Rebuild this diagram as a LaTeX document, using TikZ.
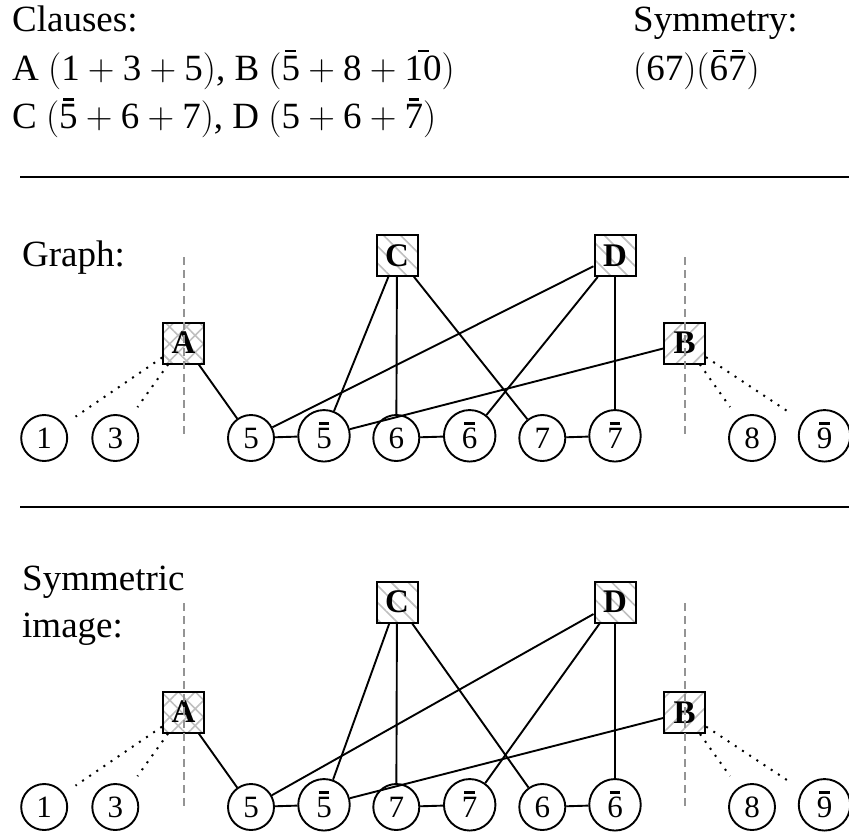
\RequirePackage{fix-cm}
\documentclass[tikz,border=0pt]{standalone}
\usepackage{fontspec}
\setmainfont{Liberation Serif}
\usetikzlibrary{patterns.meta}
\newcommand\dg[1]{\mbox{#1}}
% digit with a bar: optional width of the bar, raise, thickness
\newcommand\nd[2][0.29em]{\mbox{\ooalign{#2\cr\hidewidth\rule[0.75em]{#1}{0.07em}\hidewidth\cr}}}
\newcommand\cd[1]{\mbox{\ooalign{#1\cr\hidewidth\rule[0.77em]{0.34em}{0.08em}\hidewidth\cr}}}
\tikzset{
 clause/.style={draw,line width=2pt,minimum size=41pt,inner sep=0pt,font=\fontsize{33}{38}\selectfont\bfseries},
 hatchx/.style={pattern={Hatch[angle=45,distance=12pt,line width=1.6pt]},pattern color=black!25},
 hatchnw/.style={pattern={Lines[angle=-45,distance=12pt,line width=1.6pt]},pattern color=black!25},
 hatchne/.style={pattern={Lines[angle=45,distance=12pt,line width=1.6pt]},pattern color=black!25},
 lit/.style={draw,circle,line width=1.9pt,minimum size=46pt,inner sep=0pt,text height=21pt,text depth=0pt,font=\fontsize{31}{36}\selectfont},
 nlit/.style={lit,minimum size=51.5pt,text height=25.5pt},
 edge/.style={line width=1.9pt},
 weak/.style={line width=2pt,dash pattern=on 2pt off 6.6pt,shorten >=14pt},
 axis/.style={black!42,line width=2pt,dash pattern=on 8pt off 5pt},
 rulel/.style={line width=2pt},
 lbl/.style={anchor=base west,inner sep=0pt,font=\fontsize{37}{44}\selectfont},
}
\begin{document}
\begin{tikzpicture}[x=1pt,y=-1pt]
\useasboundingbox (0,0) rectangle (849,836);

% ---------- header text ----------
\node[lbl] (t1) at (12,31.7) {Clauses:};
\node[lbl] (t2) at (12,80) {A $(\dg{1}+\dg{3}+\dg{5})$, B $(\nd{5}+\dg{8}+\nd{10})$};
\node[lbl] (t3) at (12,128.3) {C $(\nd{5}+\dg{6}+\dg{7})$, D $(\dg{5}+\dg{6}+\nd{7})$};
\node[lbl] (s1) at (633,31.7) {Symmetry:};
\node[lbl] (s2) at (633,80) {$(\dg{67})(\nd{6}\nd{7})$};

% ---------- rules ----------
\coordinate (r1a) at (20,177); \coordinate (r1b) at (849,177);
\coordinate (r2a) at (20,507.3); \coordinate (r2b) at (849,507.3);
\draw[rulel] (r1a) -- (r1b);
\draw[rulel] (r2a) -- (r2b);

% ---------- section 1: Graph ----------
\node[lbl] (g1) at (22,266) {Graph:};
\node[clause,hatchx]  (A1) at (183.5,343) {A};
\node[clause,hatchnw] (C1) at (397,255.5) {C};
\node[clause,hatchnw] (D1) at (615,255.5) {D};
\node[clause,hatchne] (B1) at (684.7,343) {B};

\node[lit]  (p1-1)  at (44.2,438) {1};
\node[lit]  (p1-3)  at (115.3,438) {3};
\node[lit]  (p1-5)  at (251,438) {5};
\node[nlit] (p1-5b) at (324,435.8) {\cd{5}};
\node[lit]  (p1-6)  at (396.3,438) {6};
\node[nlit] (p1-6b) at (469.7,435.8) {\cd{6}};
\node[lit]  (p1-7)  at (542.3,438) {7};
\node[nlit] (p1-7b) at (615,435.8) {\cd{7}};
\node[lit]  (p1-8)  at (752,438) {8};
\node[nlit] (p1-9b) at (824.5,435.8) {\cd{9}};

\draw[edge] (A1) -- (p1-5);
\draw[edge] (C1) -- (p1-5b);
\draw[edge] (C1) -- (p1-6);
\draw[edge] (C1) -- (p1-7);
\draw[edge] (D1) -- (p1-5);
\draw[edge] (D1) -- (p1-6b);
\draw[edge] (D1) -- (p1-7b);
\draw[edge] (B1) -- (p1-5b);
\draw[edge] (p1-5) -- (p1-5b);
\draw[edge] (p1-6) -- (p1-6b);
\draw[edge] (p1-7) -- (p1-7b);
\draw[weak] (A1) -- (p1-1);
\draw[weak] (A1) -- (p1-3);
\draw[weak] (B1) -- (p1-8);
\draw[weak] (B1) -- (p1-9b);

\coordinate (v1a) at (183.5,257); \coordinate (v1b) at (183.5,438);
\coordinate (w1a) at (684.7,257); \coordinate (w1b) at (684.7,438);
\draw[axis] (v1a) -- (v1b);
\draw[axis] (w1a) -- (w1b);

% ---------- section 2: Symmetric image ----------
\node[lbl] (g2) at (22,590) {Symmetric};
\node[lbl] (g3) at (22,637) {image:};
\node[clause,hatchx]  (A2) at (183.5,712) {A};
\node[clause,hatchnw] (C2) at (397,602) {C};
\node[clause,hatchnw] (D2) at (615,602) {D};
\node[clause,hatchne] (B2) at (684.7,712.5) {B};

\node[lit]  (p2-1)  at (44.2,807) {1};
\node[lit]  (p2-3)  at (115.3,807) {3};
\node[lit]  (p2-5)  at (251,807) {5};
\node[nlit] (p2-5b) at (324,804.8) {\cd{5}};
\node[lit]  (p2-7)  at (396.3,807) {7};
\node[nlit] (p2-7b) at (469.7,804.8) {\cd{7}};
\node[lit]  (p2-6)  at (542.3,807) {6};
\node[nlit] (p2-6b) at (615,804.8) {\cd{6}};
\node[lit]  (p2-8)  at (752,807) {8};
\node[nlit] (p2-9b) at (824.5,804.8) {\cd{9}};

\draw[edge] (A2) -- (p2-5);
\draw[edge] (C2) -- (p2-5b);
\draw[edge] (C2) -- (p2-7);
\draw[edge] (C2) -- (p2-6);
\draw[edge] (D2) -- (p2-5);
\draw[edge] (D2) -- (p2-7b);
\draw[edge] (D2) -- (p2-6b);
\draw[edge] (B2) -- (p2-5b);
\draw[edge] (p2-5) -- (p2-5b);
\draw[edge] (p2-7) -- (p2-7b);
\draw[edge] (p2-6) -- (p2-6b);
\draw[weak] (A2) -- (p2-1);
\draw[weak] (A2) -- (p2-3);
\draw[weak] (B2) -- (p2-8);
\draw[weak] (B2) -- (p2-9b);

\coordinate (v2a) at (183.5,603); \coordinate (v2b) at (183.5,808);
\coordinate (w2a) at (684.7,603); \coordinate (w2b) at (684.7,808);
\draw[axis] (v2a) -- (v2b);
\draw[axis] (w2a) -- (w2b);
\end{tikzpicture}
\end{document}
